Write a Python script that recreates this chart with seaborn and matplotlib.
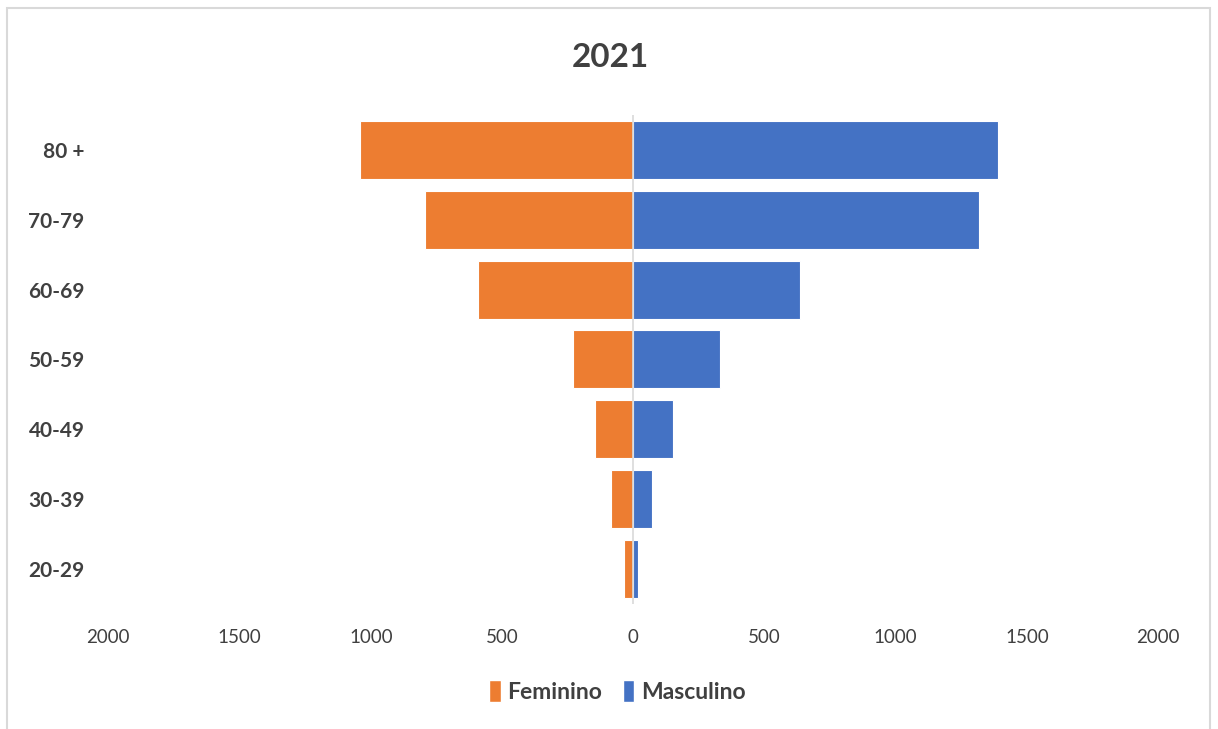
import pandas as pd
import matplotlib.pyplot as plt
import seaborn as sns
from matplotlib.patches import Rectangle, Patch
from matplotlib.ticker import FuncFormatter

# faixas etarias (de cima para baixo) e valores
faixas = ['80 +', '70-79', '60-69', '50-59', '40-49', '30-39', '20-29']
feminino = [1040, 795, 593, 231, 147, 85, 34]
masculino = [1389, 1317, 636, 330, 151, 70, 20]
ticks = [-2000, -1500, -1000, -500, 0, 500, 1000, 1500, 2000]

cor_fem = '#ED7D31'
cor_masc = '#4472C4'
cor_texto = '#404040'

df = pd.DataFrame({
    'Faixa': faixas * 2,
    'Valor': [-v for v in feminino] + masculino,
    'Sexo': ['Feminino'] * len(faixas) + ['Masculino'] * len(faixas),
})

sns.set_style('white')
plt.rcParams['font.family'] = ['Lato', 'DejaVu Sans']

fig = plt.figure(figsize=(12.18, 7.29), dpi=100)
ax = fig.add_axes([0.0889, 0.172, 0.862, 0.670])

sns.barplot(data=df, x='Valor', y='Faixa', hue='Sexo', order=faixas,
            palette={'Feminino': cor_fem, 'Masculino': cor_masc},
            dodge=False, width=0.83, saturation=1, edgecolor='white', linewidth=0.8,
            orient='h', legend=False, ax=ax)

ax.set_xlim(-2000, 2000)
ax.set_ylim(6.5, -0.5)
ax.set_xticks(ticks)
ax.xaxis.set_major_formatter(FuncFormatter(lambda v, p: f'{abs(int(v))}'))
ax.tick_params(axis='x', length=0, pad=18, labelsize=13.5, labelcolor=cor_texto)
ax.tick_params(axis='y', length=0, pad=17, labelsize=15, labelcolor=cor_texto)
for lab in ax.get_yticklabels():
    lab.set_fontweight('bold')
ax.set_xlabel('')
ax.set_ylabel('')
for s in ax.spines.values():
    s.set_visible(False)
ax.axvline(0, color='#D9D9D9', lw=1.2, zorder=5)

fig.text(0.501, 0.921, '2021', ha='center', va='center',
         fontsize=24, fontweight='bold', color=cor_texto)

# legenda na parte de baixo
handles = [Patch(facecolor=cor_fem), Patch(facecolor=cor_masc)]
leg = fig.legend(handles, ['Feminino', 'Masculino'], loc='center',
                 bbox_to_anchor=(0.507, 0.051), ncol=2, frameon=False,
                 handlelength=0.5, handleheight=1.1, handletextpad=0.3,
                 columnspacing=0.9, prop={'size': 16.5, 'weight': 'bold'})
for t in leg.get_texts():
    t.set_color(cor_texto)

# moldura cinza do grafico
fig.patches.append(Rectangle((0.0057, -0.02), 0.988, 1.0085, transform=fig.transFigure,
                             fill=False, edgecolor='#D9D9D9', lw=1.5))

plt.savefig('out.png', dpi=100)
